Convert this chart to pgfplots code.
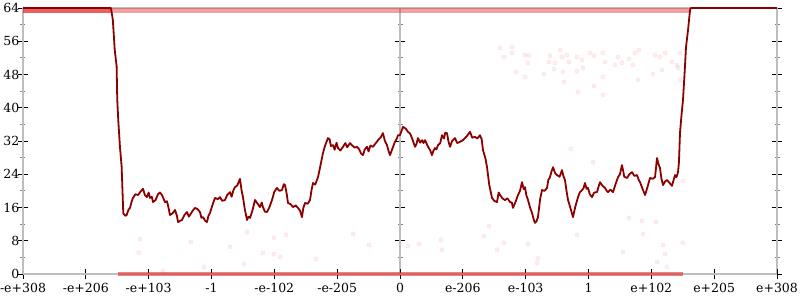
\documentclass[border=0pt]{standalone}
\usepackage{pgfplots}
\pgfplotsset{compat=1.18}
\usepackage{fontspec}
\setmainfont{DejaVu Serif}
\definecolor{linered}{RGB}{140,0,0}
\definecolor{dotred}{RGB}{225,30,30}
\definecolor{axgray}{RGB}{190,190,190}
\begin{document}
\begin{tikzpicture}
\pgfplotsset{
  base/.style={
    at={(0,0)}, anchor=south west, scale only axis,
    width=754pt, height=266pt,
    xmin=-6, xmax=6, ymin=0, ymax=64,
    tick align=center,
    major tick length=10pt, minor tick length=5pt,
    every tick/.style={black, line width=0.8pt},
    minor tick style={gray, line width=0.8pt},
    axis line style={axgray, line width=2.2pt, -},
    ytick={0,8,...,64}, minor ytick={4,12,...,60},
    tick label style={font=\fontsize{12.5}{15}\selectfont},
    /pgf/number format/assume math mode=true,
  }
}
% right y axis
\begin{axis}[base, axis x line=none, axis y line*=right, yticklabels={}]
\end{axis}
% middle y axis
\begin{axis}[base, axis x line=none, axis y line*=middle, yticklabels={}]
\end{axis}
% top line
\begin{axis}[base, axis x line*=top, axis y line=none, xtick=\empty]
\end{axis}
\begin{axis}[base,
  axis x line*=bottom, axis y line*=left,
  xtick={-6,...,6},
  xticklabels={-e+308,-e+206,-e+103,-1,-e-102,-e-205,0,e-206,e-103,1,e+102,e+205,e+308},
  xticklabel style={yshift=-1pt},
  yticklabel style={xshift=2.5pt, inner sep=1pt},
  clip=false]
% dense bands of points at 0 and 64
\addplot[dotred, opacity=0.42, line width=4.5pt] coordinates {(-6,63.4) (4.62,63.4)};
\addplot[dotred, opacity=0.5, line width=4.5pt] coordinates {(-6,63.4) (-4.6,63.4)};
\addplot[dotred, opacity=0.55, line width=4.5pt] coordinates {(-4.49,0) (4.50,0)};
% sparse points
\addplot[only marks, mark=*, mark size=2.2pt, mark options={fill=dotred, draw=dotred, opacity=0.08}] coordinates {
(-2.435,10.1) (-2.706,6.5) (-2.005,8.7) (-1.814,9.4) (-2.181,5.1) (-2.005,4.8) (-1.910,4.1)
(-2.483,2.4) (-3.120,1.7) (-1.337,3.6) (-0.748,9.6) (-0.493,7.0) (0.127,6.7) (0.302,7.2)
(0.653,8.2) (0.668,5.8) (-4.138,8.4) (-4.154,5.1) (-3.326,7.7) (-3.772,0.7)
(1.417,11.5) (1.337,9.1) (1.655,7.5) (1.544,5.8) (2.037,7.2) (2.196,3.8) (2.181,2.6)
(2.817,9.4) (3.549,5.3) (2.722,30.1) (3.072,26.9) (3.645,13.5) (3.852,12.8) (4.075,12.5)
(4.504,22.4) (3.868,9.6) (4.186,7.0) (4.218,4.8) (4.504,7.5) (4.090,2.9) (4.250,1.7)
(3.231,53.2) (3.263,51.0) (3.470,52.2) (3.533,50.8) (3.645,51.7) (3.708,50.3) (3.740,53.2)
(3.804,53.9) (4.059,52.7) (4.138,52.2) (4.218,53.2) (4.329,51.0) (4.409,50.3) (4.457,53.2)
(4.425,49.6) (4.170,49.1) (3.422,50.3) (3.231,47.4) (3.788,46.7) (4.027,48.1) (4.457,46.7)
(1.592,54.4) (1.655,52.2) (1.783,54.6) (1.783,53.2) (1.990,52.7) (2.053,52.5) (2.037,50.8)
(1.846,48.6) (1.990,47.4) (2.292,48.1) (2.387,52.5) (2.371,51.0) (2.467,50.8) (2.451,49.3)
(2.547,53.9) (2.578,52.2) (2.658,52.7) (2.690,51.0) (2.594,48.6) (2.610,46.2) (2.817,52.2)
(2.897,51.5) (2.913,49.6) (2.817,48.8) (3.024,53.2) (3.088,52.5) (3.088,45.2) (2.833,43.8)
(3.231,43.1)
};
% main line
\addplot[linered, line width=1.8pt, line join=round] coordinates {
(-6,64) (-4.60,64) (-4.57,61.1) (-4.54,53.9) (-4.51,50) (-4.50,42) (-4.484,37.1) (-4.457,30.6)
(-4.43,25.8) (-4.404,14.6) (-4.37,14.0) (-4.35,14.2) (-4.32,15.5) (-4.297,15.9) (-4.27,17.5) (-4.25,18.3)
(-4.21,19.2) (-4.17,19.0) (-4.13,19.8) (-4.09,20.5) (-4.06,19.0) (-4.027,18.5) (-4.00,19.6) (-3.979,18.3)
(-3.95,18.6) (-3.931,17.3) (-3.89,17.8) (-3.852,19.2) (-3.82,19.6) (-3.788,19.0) (-3.76,18.0)
(-3.74,17.3) (-3.71,17.5) (-3.693,16.6) (-3.68,15.6) (-3.661,14.2) (-3.62,14.6) (-3.581,15.4)
(-3.55,14.0) (-3.533,12.5) (-3.50,12.8) (-3.47,13.0) (-3.43,14.2) (-3.39,14.9) (-3.36,13.8) (-3.342,14.2)
(-3.30,15.2) (-3.263,15.9) (-3.22,15.6) (-3.183,14.9) (-3.16,13.5) (-3.135,13.7) (-3.10,12.8) (-3.072,12.5)
(-3.05,13.9) (-3.024,14.7) (-2.98,16.8) (-2.944,18.3) (-2.90,18.0) (-2.865,18.5) (-2.83,17.6) (-2.785,17.8)
(-2.75,19.0) (-2.706,19.7) (-2.68,18.6) (-2.65,20.2) (-2.626,20.9) (-2.59,21.3) (-2.547,22.9)
(-2.52,20.0) (-2.499,18.5) (-2.47,15.6) (-2.435,13.0) (-2.41,13.8) (-2.387,13.5) (-2.35,15.2)
(-2.308,17.8) (-2.27,17.0) (-2.228,16.1) (-2.20,17.2) (-2.181,16.1) (-2.15,15.0) (-2.117,14.9)
(-2.08,16.0) (-2.037,17.8) (-2.00,19.8) (-1.958,20.7) (-1.92,20.0) (-1.878,20.2) (-1.85,21.6)
(-1.83,21.4) (-1.80,19.0) (-1.783,17.1) (-1.74,16.8) (-1.703,16.1) (-1.66,16.5) (-1.623,15.9)
(-1.59,15.2) (-1.56,13.7) (-1.54,15.8) (-1.512,17.1) (-1.47,16.9) (-1.432,17.8) (-1.41,20.0)
(-1.385,21.9) (-1.35,21.5) (-1.305,23.3) (-1.27,25.8) (-1.226,29.1) (-1.19,31.0) (-1.146,32.7)
(-1.12,32.4) (-1.10,30.8) (-1.066,31.0) (-1.04,29.9) (-1.01,31.6) (-0.987,30.3) (-0.95,29.7) (-0.907,30.6)
(-0.87,31.5) (-0.84,30.5) (-0.796,31.5) (-0.76,30.9) (-0.72,30.4) (-0.684,30.6) (-0.65,30.0) (-0.62,29.0) (-0.589,28.6)
(-0.56,30.0) (-0.525,30.6) (-0.50,29.5) (-0.47,30.9) (-0.43,30.6) (-0.39,31.4) (-0.35,32.2) (-0.31,32.8) (-0.271,33.9)
(-0.24,32.0) (-0.207,31.0) (-0.18,29.5) (-0.159,28.6) (-0.12,30.2) (-0.08,31.8) (-0.05,32.6) (-0.032,33.4) (0,33.4)
(0.048,35.4) (0.09,35.0) (0.127,34.2) (0.16,33.8) (0.191,32.7) (0.239,30.6) (0.26,31.2) (0.286,32.7)
(0.32,31.6) (0.35,32.2) (0.375,31.5) (0.398,32.2) (0.42,31.5) (0.446,30.6) (0.48,29.8) (0.509,28.6)
(0.53,29.6) (0.557,30.3) (0.58,30.0) (0.605,31.0) (0.64,31.5) (0.668,33.4) (0.70,32.6) (0.72,34.0) (0.748,33.9)
(0.77,32.0) (0.796,30.6) (0.83,32.0) (0.875,32.7) (0.91,31.5) (0.955,31.8) (1.00,32.2) (1.035,32.7)
(1.07,33.3) (1.114,34.2) (1.15,32.8) (1.194,33.0) (1.23,32.6) (1.273,33.4) (1.30,32.4) (1.321,29.8)
(1.36,27.8) (1.385,25.7) (1.42,21.5) (1.464,18.3) (1.50,17.6) (1.544,17.3) (1.57,19.6) (1.592,19.0)
(1.63,18.2) (1.671,17.8) (1.71,18.2) (1.751,17.3) (1.78,17.2) (1.798,15.9) (1.84,17.4) (1.878,19.0)
(1.91,20.0) (1.942,22.1) (1.97,20.4) (1.99,20.9) (2.01,19.0) (2.037,17.8) (2.07,16.0) (2.101,14.7)
(2.13,13.0) (2.149,12.3) (2.17,12.6) (2.196,13.7) (2.23,18.0) (2.26,20.2) (2.30,20.0) (2.34,20.7)
(2.36,22.6) (2.387,23.3) (2.41,24.6) (2.435,25.7) (2.47,24.2) (2.499,23.8) (2.54,23.4) (2.578,25.0)
(2.60,23.6) (2.626,22.6) (2.65,20.0) (2.674,17.8) (2.71,16.0) (2.753,13.7) (2.79,16.2) (2.833,18.5)
(2.86,19.6) (2.897,20.2) (2.92,20.6) (2.944,21.9) (2.97,20.5) (2.992,20.7) (3.02,19.2) (3.056,18.5)
(3.09,19.6) (3.135,19.7) (3.16,21.0) (3.183,22.1) (3.22,21.3) (3.263,20.7) (3.29,20.0) (3.31,19.7)
(3.35,20.3) (3.39,19.7) (3.43,21.6) (3.47,23.3) (3.50,24.0) (3.533,26.2) (3.57,23.4) (3.613,23.1)
(3.65,24.0) (3.693,24.5) (3.73,23.6) (3.772,23.8) (3.80,22.6) (3.82,22.1) (3.86,20.5) (3.9,19.0)
(3.94,21.0) (3.979,23.1) (4.02,22.9) (4.059,23.3) (4.075,25.6) (4.09,27.9) (4.115,26.4) (4.138,25.5)
(4.16,23.0) (4.186,21.4) (4.22,22.3) (4.25,22.6) (4.29,21.9) (4.329,21.2) (4.35,22.4) (4.377,23.8)
(4.40,23.3) (4.425,24.5) (4.44,27.0) (4.456,33.9) (4.48,38.2) (4.504,41.9) (4.53,48.5) (4.552,54.6)
(4.584,58.7) (4.616,63.5) (4.63,64) (6,64)
};
\end{axis}
\pgfresetboundingbox
\useasboundingbox (-23pt,-26pt) rectangle (777pt,274pt);
\end{tikzpicture}
\end{document}
